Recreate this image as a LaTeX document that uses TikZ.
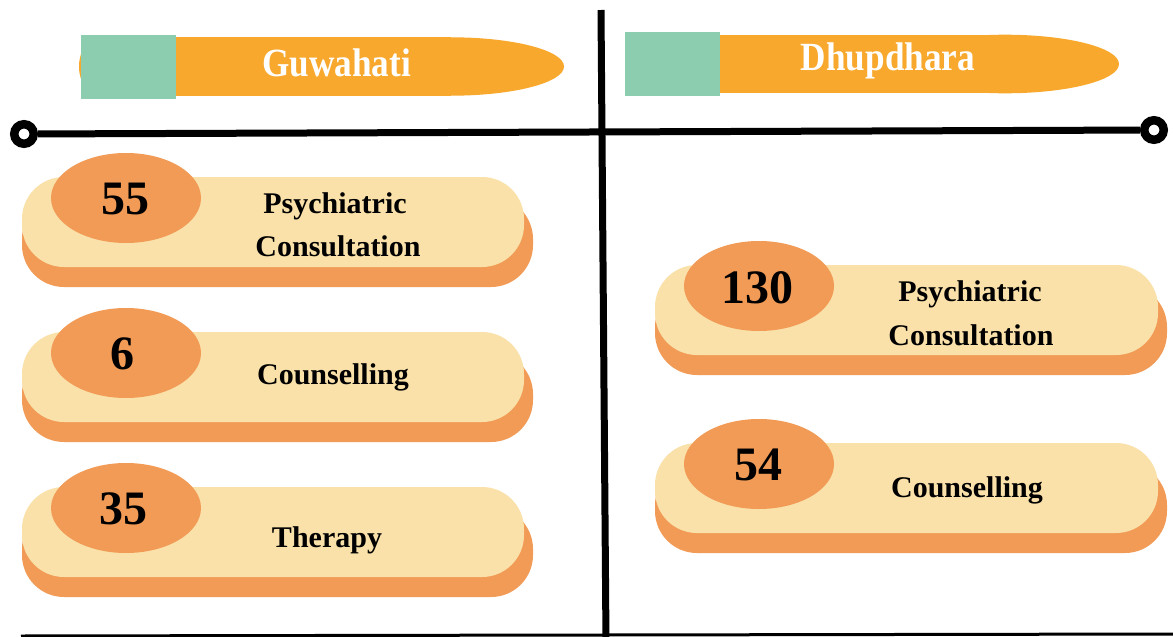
\documentclass[tikz,border=0pt]{standalone}
\usepackage{fontspec}
\setmainfont{Liberation Serif}
\definecolor{hdrorange}{HTML}{F8A82C}
\definecolor{hdrteal}{HTML}{8DCDAF}
\definecolor{cardlight}{HTML}{FAE1A9}
\definecolor{cardshadow}{HTML}{F19B56}
\tikzset{
  hdrtext/.style={text=white, font=\bfseries\fontsize{40}{40}\selectfont, inner sep=0pt, anchor=base},
  lbl/.style={text=black, font=\bfseries\fontsize{30}{30}\selectfont, inner sep=0pt, anchor=base},
  num/.style={text=black, font=\bfseries\fontsize{48}{48}\selectfont, inner sep=0pt, anchor=base},
  endring/.style={circle, draw=black, line width=8.5pt, fill=white, minimum size=19.5pt, inner sep=0pt},
  cardrect/.style={rounded corners=42pt},
  mainline/.style={line width=7pt}
}
\newcommand{\hdrbar}[5]{% x-left, x-capcentre, ycentre, ry, rx
  \fill[hdrorange] (#1,#3) ellipse [x radius=21, y radius=#4];
  \fill[hdrorange] (#1,#3-#4) rectangle (#2,#3+#4);
  \fill[hdrorange] (#2,#3) ellipse [x radius=#5, y radius=#4];
}
\newcommand{\card}[4]{% xleft, xright, ytop, ellipse cx
  \fill[cardshadow, cardrect] (#1,#3+20) rectangle (#2+9,#3+110);
  \fill[cardlight, cardrect] (#1,#3) rectangle (#2,#3+90);
  \fill[cardshadow] (#4,#3+21) ellipse [x radius=75, y radius=45];
}
\begin{document}
\begin{tikzpicture}[x=1pt,y=-1pt]
\useasboundingbox (0,0) rectangle (1173,637);
\fill[white] (0,0) rectangle (1173,637);

% headers
\hdrbar{100}{451}{66.5}{29.2}{113}
\fill[hdrteal] (81,35) rectangle (176,99);
\node[hdrtext] (gtitle) at (336.5,76) {\scalebox{0.88}[1]{Guwahati}};

\hdrbar{700}{1005}{64}{29.3}{114}
\fill[hdrteal] (625,32) rectangle (720,96);
\node[hdrtext] (dtitle) at (888,70) {\scalebox{0.88}[1]{Dhupdhara}};

% axes
\coordinate (vt) at (601,10);
\coordinate (vb) at (606,642);
\draw[mainline] (vt) -- (vb);
\node[endring] (lc) at (24,134) {};
\node[endring] (rc) at (1154,130) {};
\draw[mainline] (lc) -- (rc);
\coordinate (bl) at (21,636);
\coordinate (br) at (1180,634);
\draw[line width=3pt] (bl) -- (br);

% Guwahati cards
\card{22}{524}{177}{126}
\node[num] (n55) at (125.5,214) {55};
\node[lbl] (g1a) at (335,213) {Psychiatric};
\node[lbl] (g1b) at (338,256.5) {Consultation};

\card{22}{524}{332}{126}
\node[num] (n6) at (122,369) {6};
\node[lbl] (g2) at (333,384) {Counselling};

\card{22}{524}{487}{126}
\node[num] (n35) at (123,524) {35};
\node[lbl] (g3) at (327,547) {Therapy};

% Dhupdhara cards
\card{655}{1158}{265}{759}
\node[num] (n130) at (757,303) {130};
\node[lbl] (d1a) at (970,301.5) {Psychiatric};
\node[lbl] (d1b) at (971,345) {Consultation};

\card{655}{1158}{443}{759}
\node[num] (n54) at (758,480) {54};
\node[lbl] (d2) at (967,497) {Counselling};
\end{tikzpicture}
\end{document}
